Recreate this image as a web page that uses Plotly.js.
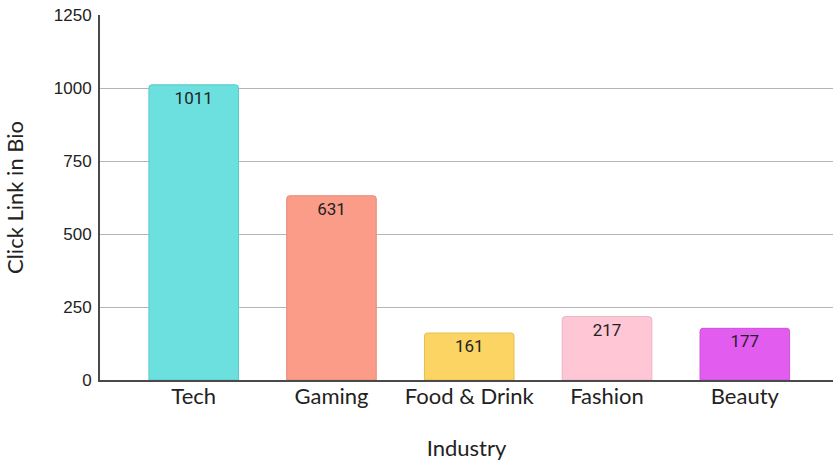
<!DOCTYPE html>
<html><head><meta charset="utf-8">
<script src="https://cdn.plot.ly/plotly-3.0.1.min.js"></script>
<style>body{margin:0;background:#fff}#chart{width:833px;height:465px}</style>
</head><body><div id="chart"></div>
<script>
const categories = ["Tech", "Gaming", "Food & Drink", "Fashion", "Beauty"];
const values = [1011, 631, 161, 217, 177];
const barColors = ["#6be0df", "#fa9c88", "#fbd463", "#ffc7d6", "#e15cef"];
const lineColors = ["#5cc9c8", "#e58b78", "#e3bf57", "#e6b3c1", "#cb52d8"];
const yTicks = [0, 250, 500, 750, 1000, 1250];

Plotly.newPlot("chart", [{
  type: "bar",
  x: categories,
  y: values,
  width: 0.65,
  marker: {color: barColors, line: {color: lineColors, width: 1}, cornerradius: 3},
  text: values.map(String),
  textposition: "inside",
  insidetextanchor: "end",
  textangle: 0,
  textfont: {family: "Roboto", size: 17, color: "#222"},
  hoverinfo: "none"
}], {
  width: 833, height: 465,
  margin: {l: 100, r: 0, t: 15, b: 85},
  paper_bgcolor: "#fff", plot_bgcolor: "#fff",
  showlegend: false,
  xaxis: {
    range: [-0.68, 4.64],
    showline: true, linecolor: "#4a4a4a", linewidth: 2,
    tickfont: {family: "Lato", size: 22, color: "#222"},
    ticks: "", ticklabelstandoff: -4,
    title: {text: "Industry", font: {family: "Lato", size: 22, color: "#222"}, standoff: 32}
  },
  yaxis: {
    range: [0, 1250],
    tickvals: yTicks,
    ticktext: yTicks.map(String),
    showline: true, linecolor: "#4a4a4a", linewidth: 2,
    gridcolor: "#b5b5b5", gridwidth: 1,
    zeroline: false,
    tickfont: {family: "Liberation Sans", size: 17, color: "#222"},
    ticks: "", ticklabelstandoff: 3,
    title: {text: "Click Link in Bio", font: {family: "Lato", size: 22, color: "#222"}, standoff: 24}
  },
  font: {family: "Lato"}
}, {staticPlot: true});
</script></body></html>
